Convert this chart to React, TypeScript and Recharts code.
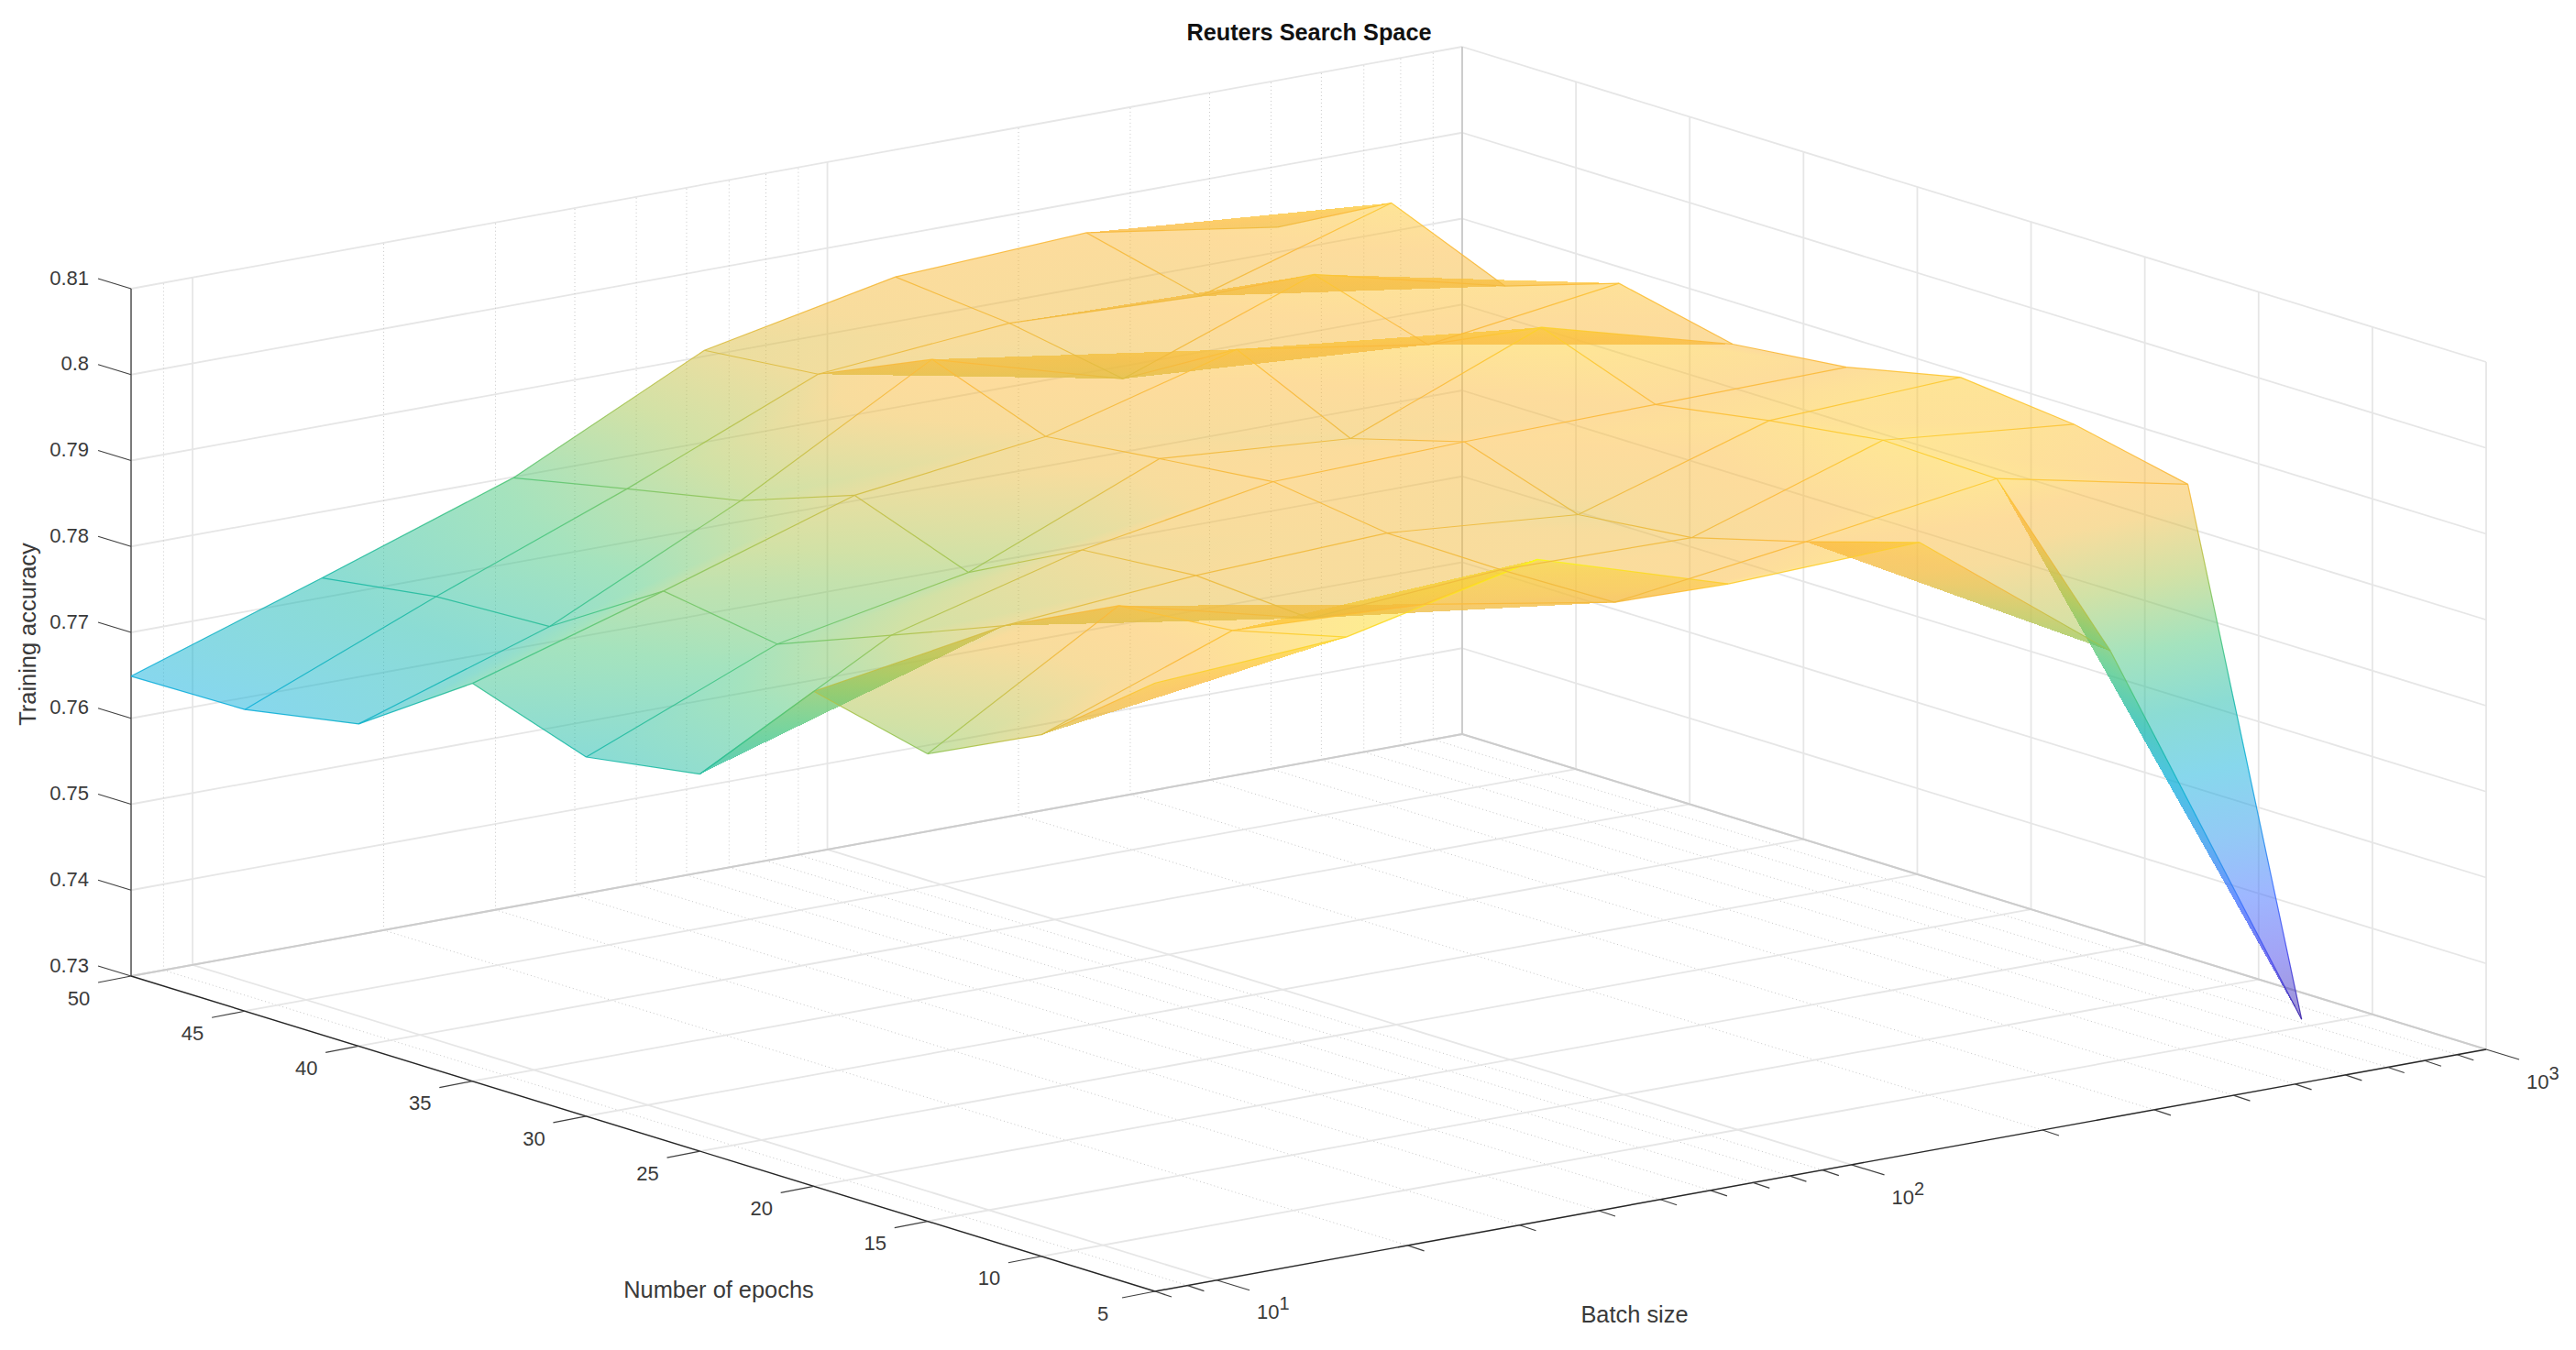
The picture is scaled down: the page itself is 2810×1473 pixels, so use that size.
import React from "react";
import { ScatterChart, Scatter, XAxis, YAxis } from "recharts";

const WIDTH = 2810;
const HEIGHT = 1473;
const FONT = '"Liberation Sans", Arial, sans-serif';
const TEXT_COLOR = "#3a3a3a";

const batchSizes = [8, 16, 32, 64, 128, 256, 512];
const epochCounts = [5, 10, 15, 20, 25, 30, 35, 40, 45, 50];

// training accuracy per batch size, one value per entry of epochCounts
const accBatch8 = [0.8008, 0.7907, 0.7844, 0.7876, 0.7739, 0.7718, 0.7763, 0.7675, 0.7651, 0.7649];
const accBatch16 = [0.8021, 0.7988, 0.7976, 0.7912, 0.786, 0.7809, 0.783, 0.7748, 0.7742, 0.7723];
const accBatch32 = [0.8071, 0.7978, 0.7921, 0.793, 0.7919, 0.7852, 0.7901, 0.7854, 0.7827, 0.7799];
const accBatch64 = [0.8002, 0.794, 0.7937, 0.7939, 0.7958, 0.7944, 0.7929, 0.7978, 0.792, 0.7907];
const accBatch128 = [0.801, 0.797, 0.7934, 0.792, 0.7964, 0.7927, 0.799, 0.7915, 0.7939, 0.7952];
const accBatch256 = [0.7843, 0.8003, 0.8007, 0.7989, 0.7967, 0.8016, 0.7955, 0.7996, 0.793, 0.7963];
const accBatch512 = [0.7374, 0.7956, 0.7985, 0.7999, 0.797, 0.7956, 0.7986, 0.7942, 0.7998, 0.7929];
const accuracy = [accBatch8, accBatch16, accBatch32, accBatch64, accBatch128, accBatch256, accBatch512];

const accuracyTicks = [0.73, 0.74, 0.75, 0.76, 0.77, 0.78, 0.79, 0.8, 0.81];
const accuracyLabels = ["0.73", "0.74", "0.75", "0.76", "0.77", "0.78", "0.79", "0.8", "0.81"];
const epochTicks = [5, 10, 15, 20, 25, 30, 35, 40, 45, 50];
const batchMajorTicks = [10, 100, 1000];
const batchMajorExponents = ["1", "2", "3"];
const batchMinorTicks = [9, 20, 30, 40, 50, 60, 70, 80, 90, 200, 300, 400, 500, 600, 700, 800, 900];

// parula-like map, tuned against the blended colours of the picture
const mapColors = ["#3E26A8", "#4747EB", "#3E6FFF", "#2796EB", "#10B0DA", "#19B9A9", "#4BC77D", "#A4C44E", "#F0BA3C", "#FBB93A", "#FDCB2F", "#FCDD22", "#F9FB15"];
const mapOffsets = [0, 0.1, 0.2, 0.3, 0.4, 0.5, 0.6, 0.7, 0.8, 0.85, 0.9, 0.95, 1];

const B_MIN = 8;
const B_MAX = 1000;
const E_MIN = 5;
const E_MAX = 50;
const Z_MIN = 0.73;
const Z_MAX = 0.81;

// fixed orthographic view of the MATLAB box, result is in chart axis units
const project = (batch: number, epoch: number, acc: number) => {
  const u = Math.log10(batch / B_MIN) / Math.log10(B_MAX / B_MIN);
  const v = (epoch - E_MIN) / (E_MAX - E_MIN);
  const w = (acc - Z_MIN) / (Z_MAX - Z_MIN);
  return { x: 1260 + 1452 * u - 1117 * v, y: 1409 - 264 * u - 344 * v - 750 * w };
};

const allAcc = accuracy.flat();
const cMin = Math.min(...allAcc);
const cMax = Math.max(...allAcc);
const colorPos = (acc: number) => (acc - cMin) / (cMax - cMin);

const noDot = () => <g />;

const gradient = (id: string, p0: any, p1: any) => (
  <defs>
    <linearGradient id={id} gradientUnits="userSpaceOnUse" x1={p0.x} y1={p0.y} x2={p1.x} y2={p1.y}>
      {mapColors.map((c, i) => (
        <stop key={i} offset={mapOffsets[i]} stopColor={c} />
      ))}
    </linearGradient>
  </defs>
);

const solidColor = (t: number) => {
  let k = 0;
  mapOffsets.forEach((o, i) => {
    if (Math.abs(o - t) < Math.abs(mapOffsets[k] - t)) k = i;
  });
  return mapColors[k];
};

// interpolated face colour: the gradient runs along the direction the colour value changes on screen
const triangleShape = (id: string, ts: number[]) => (props: any) => {
  const [a, b, c] = props.points;
  const d = `M${a.x},${a.y}L${b.x},${b.y}L${c.x},${c.y}Z`;
  const abx = b.x - a.x;
  const aby = b.y - a.y;
  const acx = c.x - a.x;
  const acy = c.y - a.y;
  const det = abx * acy - acx * aby;
  const dtb = ts[1] - ts[0];
  const dtc = ts[2] - ts[0];
  if (Math.abs(det) < 1e-6 || (Math.abs(dtb) < 1e-6 && Math.abs(dtc) < 1e-6)) {
    return <path d={d} fill={solidColor(ts[0])} fillOpacity={0.5} stroke="none" shapeRendering="crispEdges" />;
  }
  const gx = (dtb * acy - dtc * aby) / det;
  const gy = (dtc * abx - dtb * acx) / det;
  const g2 = gx * gx + gy * gy;
  const p0 = { x: a.x - (gx * ts[0]) / g2, y: a.y - (gy * ts[0]) / g2 };
  const p1 = { x: a.x + (gx * (1 - ts[0])) / g2, y: a.y + (gy * (1 - ts[0])) / g2 };
  return (
    <g>
      {gradient(id, p0, p1)}
      <path d={d} fill={`url(#${id})`} fillOpacity={0.5} stroke="none" shapeRendering="crispEdges" />
    </g>
  );
};

const edgeShape = (id: string, ta: number, tb: number) => (props: any) => {
  const [a, b] = props.points;
  const d = `M${a.x},${a.y}L${b.x},${b.y}`;
  const dt = tb - ta;
  if (Math.abs(dt) < 1e-6) {
    return <path d={d} stroke={solidColor(ta)} strokeWidth={1.2} strokeOpacity={0.9} fill="none" />;
  }
  const dx = (b.x - a.x) / dt;
  const dy = (b.y - a.y) / dt;
  const p0 = { x: a.x - dx * ta, y: a.y - dy * ta };
  const p1 = { x: a.x + dx * (1 - ta), y: a.y + dy * (1 - ta) };
  return (
    <g>
      {gradient(id, p0, p1)}
      <path d={d} stroke={`url(#${id})`} strokeWidth={1.2} strokeOpacity={0.9} fill="none" />
    </g>
  );
};

const vertex = (i: number, j: number) => project(batchSizes[i], epochCounts[j], accuracy[i][j]);
const vertexPos = (i: number, j: number) => colorPos(accuracy[i][j]);

type Tri = { key: string; cells: number[][] };
type Edge = { key: string; cells: number[][] };

const triangles: Tri[] = [];
const edges: Edge[] = [];
batchSizes.forEach((_, i) => {
  epochCounts.forEach((_e, j) => {
    if (i < batchSizes.length - 1 && j < epochCounts.length - 1) {
      triangles.push({ key: `a${i}-${j}`, cells: [[i, j], [i + 1, j], [i, j + 1]] });
      triangles.push({ key: `b${i}-${j}`, cells: [[i + 1, j], [i + 1, j + 1], [i, j + 1]] });
    }
    if (i < batchSizes.length - 1) edges.push({ key: `h${i}-${j}`, cells: [[i, j], [i + 1, j]] });
    if (j < epochCounts.length - 1) edges.push({ key: `v${i}-${j}`, cells: [[i, j], [i, j + 1]] });
  });
});

const majorGrid = { stroke: "#e6e6e6", strokeWidth: 1.8 };
const minorGrid = { stroke: "#c6c6c6", strokeWidth: 1, strokeDasharray: "1 3" };
const axisLine = { stroke: "#262626", strokeWidth: 1.4 };
const wallEdge = { stroke: "#cccccc", strokeWidth: 2 };
const leftEdge = { stroke: "#7a7a7a", strokeWidth: 2 };
const tickLine = { stroke: "#404040", strokeWidth: 1.2 };

type Seg = { key: string; pts: { x: number; y: number }[]; style: any };
const gridSegs: Seg[] = [];
const addSeg = (key: string, a: any, b: any, style: any) => gridSegs.push({ key, pts: [a, b], style });

accuracyTicks.forEach((z) => {
  addSeg(`zl${z}`, project(B_MIN, E_MAX, z), project(B_MAX, E_MAX, z), majorGrid);
  addSeg(`zr${z}`, project(B_MAX, E_MAX, z), project(B_MAX, E_MIN, z), majorGrid);
});
batchMinorTicks.forEach((b) => {
  addSeg(`mf${b}`, project(b, E_MIN, Z_MIN), project(b, E_MAX, Z_MIN), minorGrid);
  addSeg(`mw${b}`, project(b, E_MAX, Z_MIN), project(b, E_MAX, Z_MAX), minorGrid);
});
batchMajorTicks.forEach((b) => {
  addSeg(`bf${b}`, project(b, E_MIN, Z_MIN), project(b, E_MAX, Z_MIN), majorGrid);
  addSeg(`bw${b}`, project(b, E_MAX, Z_MIN), project(b, E_MAX, Z_MAX), majorGrid);
});
epochTicks.forEach((e) => {
  addSeg(`ef${e}`, project(B_MIN, e, Z_MIN), project(B_MAX, e, Z_MIN), majorGrid);
  addSeg(`ew${e}`, project(B_MAX, e, Z_MIN), project(B_MAX, e, Z_MAX), majorGrid);
});
addSeg("backLeft", project(B_MIN, E_MAX, Z_MIN), project(B_MAX, E_MAX, Z_MIN), wallEdge);
addSeg("backRight", project(B_MAX, E_MAX, Z_MIN), project(B_MAX, E_MIN, Z_MIN), wallEdge);
addSeg("backUp", project(B_MAX, E_MAX, Z_MIN), project(B_MAX, E_MAX, Z_MAX), wallEdge);

const axisSegs: Seg[] = [];
const addAxis = (key: string, a: any, b: any, style: any) => axisSegs.push({ key, pts: [a, b], style });
const shift = (p: any, dx: number, dy: number) => ({ x: p.x + dx, y: p.y + dy });

addAxis("zAxis", project(B_MIN, E_MAX, Z_MIN), project(B_MIN, E_MAX, Z_MAX), leftEdge);
addAxis("eAxis", project(B_MIN, E_MAX, Z_MIN), project(B_MIN, E_MIN, Z_MIN), axisLine);
addAxis("bAxis", project(B_MIN, E_MIN, Z_MIN), project(B_MAX, E_MIN, Z_MIN), axisLine);
accuracyTicks.forEach((z) => {
  const p = project(B_MIN, E_MAX, z);
  addAxis(`zt${z}`, p, shift(p, -36, -11), tickLine);
});
epochTicks.forEach((e) => {
  const p = project(B_MIN, e, Z_MIN);
  addAxis(`et${e}`, p, shift(p, -36, 7), tickLine);
});
batchMajorTicks.forEach((b) => {
  const p = project(b, E_MIN, Z_MIN);
  addAxis(`bt${b}`, p, shift(p, 36, 11), tickLine);
});
[B_MIN, ...batchMinorTicks].forEach((b) => {
  const p = project(b, E_MIN, Z_MIN);
  addAxis(`bm${b}`, p, shift(p, 18, 6), tickLine);
});

type Lab = { key: string; x: number; y: number; label: string; anchor?: string; size?: number; weight?: string; rotate?: number; sup?: string; color?: string };
const labels: Lab[] = [
  { key: "title", x: 1428, y: 35, label: "Reuters Search Space", size: 25.3, weight: "bold", color: "#111" },
  { key: "xName", x: 1783, y: 1434, label: "Batch size", size: 25.4 },
  { key: "yName", x: 784, y: 1407, label: "Number of epochs", size: 25.4 },
  { key: "zName", x: 30, y: 692, label: "Training accuracy", size: 25.4, rotate: -90 },
];
accuracyTicks.forEach((z, i) => {
  const p = project(B_MIN, E_MAX, z);
  labels.push({ key: `zl${i}`, x: p.x - 46, y: p.y - 12, label: accuracyLabels[i], anchor: "end" });
});
epochTicks.forEach((e) => {
  const p = project(B_MIN, e, Z_MIN);
  labels.push({ key: `el${e}`, x: p.x - 57, y: p.y + 24, label: String(e) });
});
batchMajorTicks.forEach((b, i) => {
  const p = project(b, E_MIN, Z_MIN);
  labels.push({ key: `bl${b}`, x: p.x + 44, y: p.y + 35, label: "10", anchor: "start", sup: batchMajorExponents[i] });
});

const textShape = (props: any) => {
  const l: Lab = props.payload;
  return (
    <text
      x={props.cx}
      y={props.cy}
      dy=".35em"
      textAnchor={l.anchor ?? "middle"}
      fontFamily={FONT}
      fontSize={l.size ?? 22}
      fontWeight={l.weight ?? "normal"}
      fill={l.color ?? TEXT_COLOR}
      transform={l.rotate ? `rotate(${l.rotate} ${props.cx} ${props.cy})` : undefined}
    >
      {l.label}
      {l.sup ? (
        <tspan dy={-10} fontSize={20}>
          {l.sup}
        </tspan>
      ) : null}
    </text>
  );
};

export default function App() {
  return (
    <div style={{ position: "absolute", left: 0, top: 0, width: WIDTH, height: HEIGHT, background: "#fff" }}>
      <ScatterChart width={WIDTH} height={HEIGHT} margin={{ top: 0, right: 0, bottom: 0, left: 0 }}>
        <XAxis type="number" dataKey="x" domain={[0, WIDTH]} hide />
        <YAxis type="number" dataKey="y" domain={[0, HEIGHT]} reversed hide />
        {gridSegs.map((s) => (
          <Scatter key={s.key} data={s.pts} line={s.style} shape={noDot} legendType="none" isAnimationActive={false} />
        ))}
        {axisSegs.map((s) => (
          <Scatter key={s.key} data={s.pts} line={s.style} shape={noDot} legendType="none" isAnimationActive={false} />
        ))}
        {triangles.map((t) => (
          <Scatter
            key={t.key}
            data={t.cells.map(([i, j]) => vertex(i, j))}
            line={triangleShape(`tri-${t.key}`, t.cells.map(([i, j]) => vertexPos(i, j)))}
            shape={noDot}
            legendType="none"
            isAnimationActive={false}
          />
        ))}
        {edges.map((e) => (
          <Scatter
            key={e.key}
            data={e.cells.map(([i, j]) => vertex(i, j))}
            line={edgeShape(`edge-${e.key}`, vertexPos(e.cells[0][0], e.cells[0][1]), vertexPos(e.cells[1][0], e.cells[1][1]))}
            shape={noDot}
            legendType="none"
            isAnimationActive={false}
          />
        ))}
        <Scatter data={labels} shape={textShape} legendType="none" isAnimationActive={false} />
      </ScatterChart>
    </div>
  );
}
